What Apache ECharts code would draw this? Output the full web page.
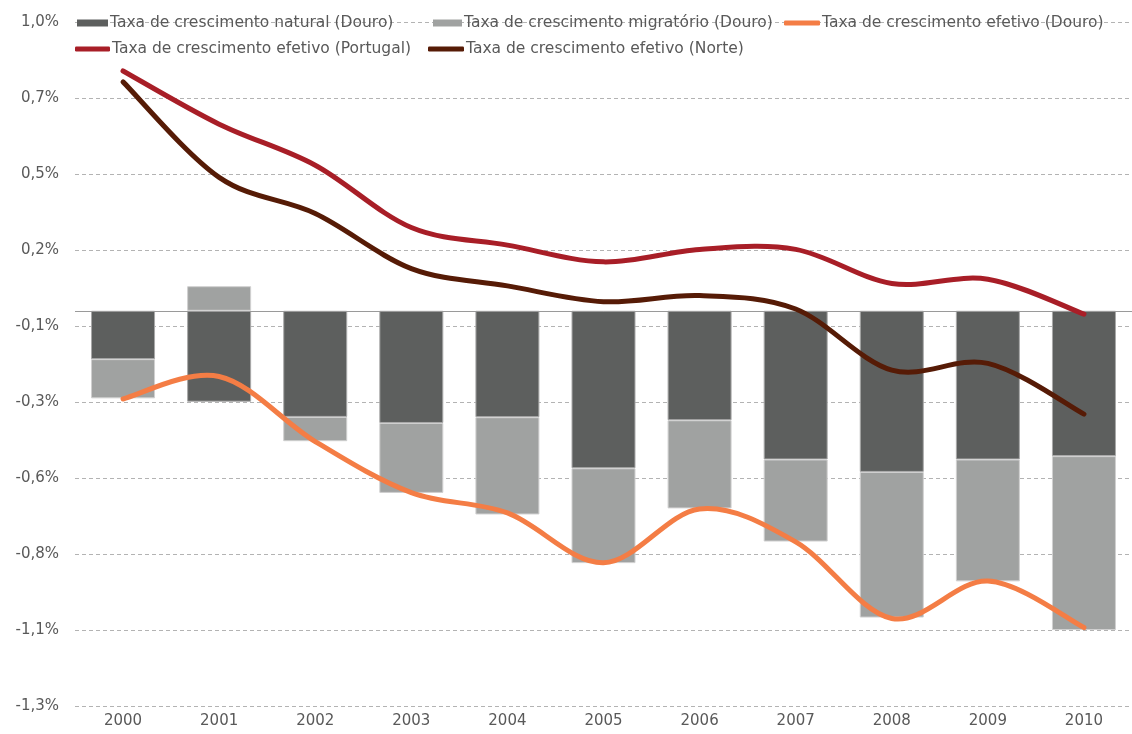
<!DOCTYPE html>
<html>
<head>
<meta charset="utf-8">
<script src="https://cdn.jsdelivr.net/npm/echarts@6/dist/echarts.min.js"></script>
<style>
  html, body { margin: 0; padding: 0; background: #fff; }
  #chart { width: 1132px; height: 734px; }
</style>
</head>
<body>
<div id="chart"></div>
<script>
// anos
var years = ['2000', '2001', '2002', '2003', '2004', '2005', '2006', '2007', '2008', '2009', '2010'];
// taxas em %
var naturalDouro = [-0.159, -0.299, -0.349, -0.369, -0.350, -0.518, -0.360, -0.489, -0.530, -0.489, -0.478];
var migratorioDouro = [-0.129, 0.081, -0.080, -0.230, -0.320, -0.312, -0.290, -0.270, -0.479, -0.401, -0.572];
var efetivoDouro = [-0.290, -0.216, -0.430, -0.598, -0.665, -0.829, -0.652, -0.760, -1.012, -0.889, -1.042];
var efetivoPortugal = [0.789, 0.614, 0.479, 0.274, 0.216, 0.161, 0.202, 0.202, 0.090, 0.104, -0.011];
var efetivoNorte = [0.753, 0.439, 0.320, 0.139, 0.082, 0.030, 0.050, 0.006, -0.195, -0.173, -0.340];
// etiquetas do eixo (de baixo para cima)
var yTickLabels = ['-1,3%', '-1,1%', '-0,8%', '-0,6%', '-0,3%', '-0,1%', '0,2%', '0,5%', '0,7%', '1,0%'];

var names = [
  'Taxa de crescimento natural (Douro)',
  'Taxa de crescimento migratório (Douro)',
  'Taxa de crescimento efetivo (Douro)',
  'Taxa de crescimento efetivo (Portugal)',
  'Taxa de crescimento efetivo (Norte)'
];

var font = 'DejaVu Sans, Verdana, sans-serif';
var txtColor = '#595959';

function legendAt(name, left, top, icon, w, h) {
  return {
    data: [name],
    left: left,
    top: top,
    icon: icon,
    itemWidth: w,
    itemHeight: h,
    padding: 0,
    selectedMode: false,
    itemStyle: { borderWidth: 0 },
    textStyle: { color: txtColor, fontSize: 15.5, fontFamily: font, padding: [0, 0, 0, -3] }
  };
}

// linha suavizada ao estilo do Excel (Catmull-Rom), pontos via api.coord
function smoothSerie(name, values, color) {
  return {
    name: name,
    type: 'custom',
    coordinateSystem: 'cartesian2d',
    yAxisIndex: 0,
    z: 5,
    itemStyle: { color: color },
    data: values.map(function (v, i) { return [years[i], v]; }),
    encode: { x: 0, y: 1 },
    renderItem: function (params, api) {
      if (params.dataIndex !== 0) return;
      var p = values.map(function (v, i) { return api.coord([i, v]); });
      var n = p.length;
      var d = 'M' + p[0][0] + ' ' + p[0][1];
      for (var i = 0; i < n - 1; i++) {
        var p0 = p[Math.max(i - 1, 0)], p1 = p[i], p2 = p[i + 1], p3 = p[Math.min(i + 2, n - 1)];
        var c1x = p1[0] + (p2[0] - p0[0]) / 6, c1y = p1[1] + (p2[1] - p0[1]) / 6;
        var c2x = p2[0] - (p3[0] - p1[0]) / 6, c2y = p2[1] - (p3[1] - p1[1]) / 6;
        d += ' C' + c1x + ' ' + c1y + ' ' + c2x + ' ' + c2y + ' ' + p2[0] + ' ' + p2[1];
      }
      return {
        type: 'path',
        shape: { pathData: d },
        style: { fill: 'none', stroke: color, lineWidth: 5, lineCap: 'round', lineJoin: 'round' }
      };
    }
  };
}

var chart = echarts.init(document.getElementById('chart'));
chart.setOption({
  animation: false,
  textStyle: { fontFamily: font },
  legend: [
    legendAt(names[0], 77, 15, 'rect', 31, 7),
    legendAt(names[1], 433, 15, 'rect', 29, 7),
    legendAt(names[2], 784, 15, 'roundRect', 36, 5),
    legendAt(names[3], 75, 41, 'roundRect', 35, 5),
    legendAt(names[4], 428, 41, 'roundRect', 36, 5)
  ],
  grid: { left: 75, right: -10, top: 22, bottom: 28, containLabel: false },
  xAxis: {
    type: 'category',
    data: years,
    axisLine: { show: false },
    axisTick: { show: false },
    axisLabel: { color: txtColor, fontSize: 15, fontFamily: font, margin: 8 }
  },
  yAxis: [
    {
      // eixo dos dados
      type: 'value',
      min: -1.3,
      max: 0.95,
      show: false
    },
    {
      // eixo das grelhas / etiquetas
      type: 'value',
      min: 0,
      max: 9,
      interval: 1,
      position: 'left',
      axisLine: { show: false },
      axisTick: { show: false },
      axisLabel: {
        color: txtColor,
        fontSize: 15,
        fontFamily: font,
        margin: 16,
        formatter: function (v) { return yTickLabels[Math.round(v)]; }
      },
      splitLine: { show: true, lineStyle: { color: '#b3b3b3', type: [4, 3], width: 1 } }
    }
  ],
  series: [
    {
      name: names[0],
      type: 'bar',
      stack: 'douro',
      yAxisIndex: 0,
      barWidth: 64,
      data: naturalDouro,
      itemStyle: { color: '#5d5f5e', borderColor: '#a9a9a9', borderWidth: 1 },
      markLine: {
        silent: true,
        symbol: 'none',
        label: { show: false },
        lineStyle: { color: '#9a9a9a', type: 'solid', width: 1 },
        data: [{ yAxis: 0 }]
      }
    },
    {
      name: names[1],
      type: 'bar',
      stack: 'douro',
      yAxisIndex: 0,
      barWidth: 64,
      data: migratorioDouro,
      itemStyle: { color: '#a0a2a1', borderColor: '#d0d0d0', borderWidth: 1 }
    },
    smoothSerie(names[2], efetivoDouro, '#f47d45'),
    smoothSerie(names[3], efetivoPortugal, '#a81e27'),
    smoothSerie(names[4], efetivoNorte, '#561b06')
  ]
});
</script>
</body>
</html>
